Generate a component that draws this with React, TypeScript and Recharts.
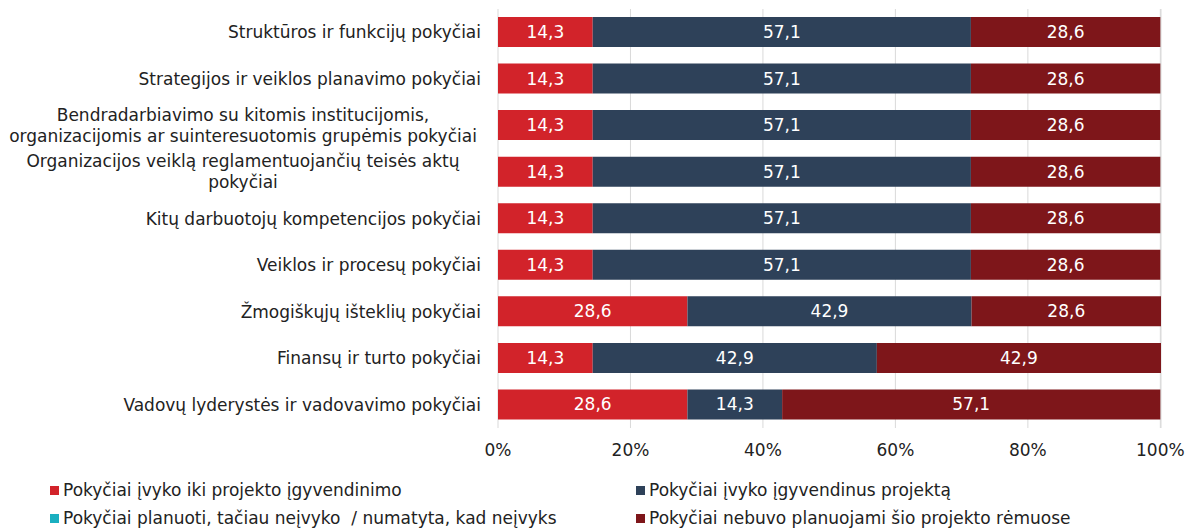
import { BarChart, Bar, XAxis, YAxis, CartesianGrid, LabelList } from 'recharts';

const categories = [
  ['Struktūros ir funkcijų pokyčiai'],
  ['Strategijos ir veiklos planavimo pokyčiai'],
  ['Bendradarbiavimo su kitomis institucijomis,', 'organizacijomis ar suinteresuotomis grupėmis pokyčiai'],
  ['Organizacijos veiklą reglamentuojančių teisės aktų', 'pokyčiai'],
  ['Kitų darbuotojų kompetencijos pokyčiai'],
  ['Veiklos ir procesų pokyčiai'],
  ['Žmogiškųjų išteklių pokyčiai'],
  ['Finansų ir turto pokyčiai'],
  ['Vadovų lyderystės ir vadovavimo pokyčiai'],
];

const beforeProject = [14.3, 14.3, 14.3, 14.3, 14.3, 14.3, 28.6, 14.3, 28.6];
const afterProject = [57.1, 57.1, 57.1, 57.1, 57.1, 57.1, 42.9, 42.9, 14.3];
const plannedNotHappened = [0, 0, 0, 0, 0, 0, 0, 0, 0];
const notPlanned = [28.6, 28.6, 28.6, 28.6, 28.6, 28.6, 28.6, 42.9, 57.1];

const xTicks = [0, 20, 40, 60, 80, 100];

const series = [
  { key: 'before', name: 'Pokyčiai įvyko iki projekto įgyvendinimo', color: '#D2232A' },
  { key: 'after', name: 'Pokyčiai įvyko įgyvendinus projektą', color: '#2E4159' },
  { key: 'planned', name: 'Pokyčiai planuoti, tačiau neįvyko  / numatyta, kad neįvyks', color: '#1AAFC0' },
  { key: 'notPlanned', name: 'Pokyčiai nebuvo planuojami šio projekto rėmuose', color: '#7E161A' },
];

const data = categories.map((lines, i) => ({
  name: lines.join('\n'),
  before: beforeProject[i],
  after: afterProject[i],
  planned: plannedNotHappened[i],
  notPlanned: notPlanned[i],
}));

const FONT = '"DejaVu Sans", sans-serif';

// wrapped labels are centred on this x, single ones right aligned
const WRAP_CENTER = 243;

function CategoryTick({ x, y, payload }: any) {
  const lines = String(payload.value).split('\n');
  const lineH = 21;
  const startY = y - ((lines.length - 1) * lineH) / 2;
  return (
    <text x={x} y={startY} fontSize={17} fontFamily={FONT} fill="#222" dominantBaseline="central">
      {lines.map((l, i) => (
        <tspan
          key={i}
          x={lines.length > 1 ? WRAP_CENTER : x}
          y={startY + i * lineH}
          textAnchor={lines.length > 1 ? 'middle' : 'end'}
        >
          {l}
        </tspan>
      ))}
    </text>
  );
}

const fmt = (v: any) => (v ? Number(v).toFixed(1).replace('.', ',') : '');

export default function App() {
  return (
    <div style={{ position: 'absolute', left: 0, top: 0, width: 1185, height: 530, background: '#fff', fontFamily: FONT, overflow: 'hidden' }}>
      <BarChart
        width={1185}
        height={470}
        data={data}
        layout="vertical"
        barSize={30}
        margin={{ top: 9, right: 24, left: 0, bottom: 12 }}
      >
        <CartesianGrid horizontal={false} stroke="#d9d9d9" />
        <XAxis
          type="number"
          domain={[0, 100]}
          ticks={xTicks}
          tickFormatter={(v) => `${v}%`}
          axisLine={false}
          tickLine={false}
          tick={{ fontSize: 17, fontFamily: FONT, fill: '#222' }}
          tickMargin={10}
          height={30}
        />
        <YAxis
          type="category"
          dataKey="name"
          width={498}
          axisLine={false}
          tickLine={false}
          tickMargin={11}
          interval={0}
          tick={<CategoryTick />}
        />
        {series.map((s) => (
          <Bar key={s.key} dataKey={s.key} name={s.name} stackId="a" fill={s.color} isAnimationActive={false}>
            <LabelList dataKey={s.key} position="center" formatter={fmt} fill="#fff" fontSize={17} fontFamily={FONT} />
          </Bar>
        ))}
      </BarChart>
      <div
        style={{
          position: 'absolute',
          left: 50,
          top: 480,
          width: 1135,
          display: 'grid',
          gridTemplateColumns: '586px 500px',
          rowGap: 7,
          fontSize: 17,
          lineHeight: '21px',
          color: '#222',
        }}
      >
        {series.map((s) => (
          <div key={s.key} style={{ display: 'flex', alignItems: 'center', height: 21, whiteSpace: 'pre' }}>
            <span style={{ width: 9, height: 9, background: s.color, marginRight: 4, display: 'inline-block' }} />
            {s.name}
          </div>
        ))}
      </div>
    </div>
  );
}
